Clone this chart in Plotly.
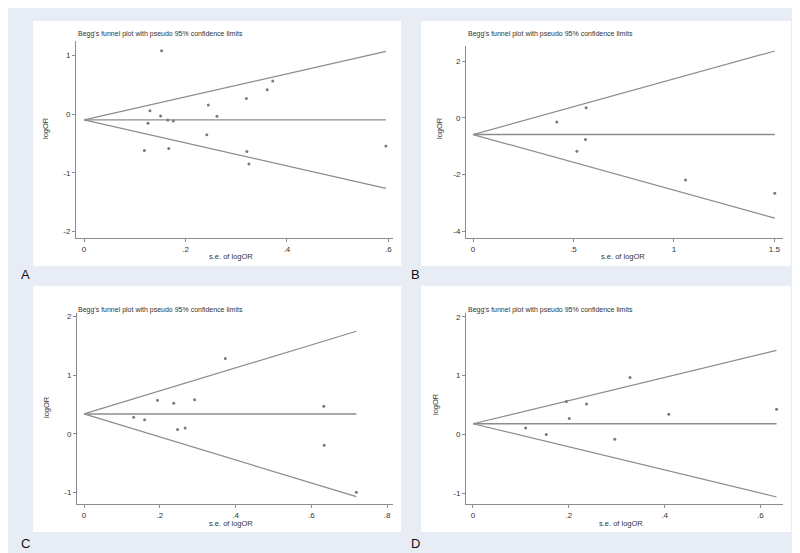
import plotly.graph_objects as go

W, H = 800, 553

# ---------------- data ----------------
se_A = [0.153, 0.130, 0.126, 0.151, 0.165, 0.176, 0.119, 0.167, 0.245, 0.262,
        0.242, 0.320, 0.361, 0.372, 0.321, 0.325, 0.595]
lor_A = [1.076, 0.057, -0.159, -0.034, -0.102, -0.119, -0.623, -0.589, 0.153, -0.040,
         -0.351, 0.266, 0.414, 0.561, -0.640, -0.850, -0.544]
pooled_A = -0.10

se_B = [0.417, 0.563, 0.560, 0.517, 1.058, 1.502]
lor_B = [-0.152, 0.353, -0.766, -1.175, -2.188, -2.659]
pooled_B = -0.59

se_C = [0.131, 0.160, 0.194, 0.237, 0.292, 0.247, 0.267, 0.373, 0.633, 0.634, 0.719]
lor_C = [0.285, 0.239, 0.575, 0.524, 0.580, 0.074, 0.102, 1.286, 0.472, -0.194, -0.996]
pooled_C = 0.34

se_D = [0.110, 0.153, 0.195, 0.201, 0.237, 0.296, 0.328, 0.409, 0.634]
lor_D = [0.113, 0.0, 0.56, 0.272, 0.521, -0.079, 0.968, 0.345, 0.430]
pooled_D = 0.185

xticks_A = [0, 0.2, 0.4, 0.6]; xlabels_A = ["0", ".2", ".4", ".6"]
yticks_A = [-2, -1, 0, 1];     ylabels_A = ["-2", "-1", "0", "1"]
xticks_B = [0, 0.5, 1, 1.5];   xlabels_B = ["0", ".5", "1", "1.5"]
yticks_B = [-4, -2, 0, 2];     ylabels_B = ["-4", "-2", "0", "2"]
xticks_C = [0, 0.2, 0.4, 0.6, 0.8]; xlabels_C = ["0", ".2", ".4", ".6", ".8"]
yticks_C = [-1, 0, 1, 2];      ylabels_C = ["-1", "0", "1", "2"]
xticks_D = [0, 0.2, 0.4, 0.6]; xlabels_D = ["0", ".2", ".4", ".6"]
yticks_D = [-1, 0, 1, 2];      ylabels_D = ["-1", "0", "1", "2"]

panel_letters = ["A", "B", "C", "D"]
title_text = "Begg's funnel plot with pseudo 95% confidence limits"
xtitle_text = "s.e. of logOR"
ytitle_text = "logOR"

# ---------------- layout geometry (pixels) ----------------
panels = [
    dict(se=se_A, lor=lor_A, pooled=pooled_A, xt=xticks_A, xl=xlabels_A, yt=yticks_A, yl=ylabels_A,
         box=(25, 13, 393, 258), plot=(68, 33, 385, 230), xr=[-0.0158, 0.609], yr=[-2.112, 1.244],
         title=(68, 26), ytit=(38, 120), xtit=(223, 248), letter=(17, 267)),
    dict(se=se_B, lor=lor_B, pooled=pooled_B, xt=xticks_B, xl=xlabels_B, yt=yticks_B, yl=ylabels_B,
         box=(413, 13, 783, 258), plot=(458, 38, 775, 230), xr=[-0.0349, 1.543], yr=[-4.235, 2.53],
         title=(458, 26), ytit=(432, 120), xtit=(615, 248), letter=(407, 267)),
    dict(se=se_C, lor=lor_C, pooled=pooled_C, xt=xticks_C, xl=xlabels_C, yt=yticks_C, yl=ylabels_C,
         box=(25, 278, 393, 524), plot=(69, 305, 385, 496), xr=[-0.0185, 0.8157], yr=[-1.195, 2.06],
         title=(68, 302), ytit=(38, 399), xtit=(223, 515), letter=(17, 535)),
    dict(se=se_D, lor=lor_D, pooled=pooled_D, xt=xticks_D, xl=xlabels_D, yt=yticks_D, yl=ylabels_D,
         box=(413, 278, 783, 524), plot=(458, 305, 775, 496), xr=[-0.0146, 0.6475], yr=[-1.177, 2.063],
         title=(458, 302), ytit=(428, 396), xtit=(613, 515), letter=(407, 535)),
]

BG = "#e8ecf5"
LINE = "#8c8c8c"
TXT = "#333333"
FONT = "Arial, Liberation Sans, sans-serif"

fig = go.Figure()
shapes = []
annotations = []
layout_axes = {}

for i, p in enumerate(panels):
    n = "" if i == 0 else str(i + 1)
    xa, ya = "x" + n, "y" + n
    max_se = max(p["se"])
    # funnel limits (pooled +/- 1.96*se) and pooled line
    fig.add_trace(go.Scatter(x=[0, max_se], y=[p["pooled"], p["pooled"] + 1.96 * max_se], mode="lines",
                             line=dict(color=LINE, width=1.2), xaxis=xa, yaxis=ya, showlegend=False,
                             hoverinfo="skip"))
    fig.add_trace(go.Scatter(x=[0, max_se], y=[p["pooled"], p["pooled"] - 1.96 * max_se], mode="lines",
                             line=dict(color=LINE, width=1.2), xaxis=xa, yaxis=ya, showlegend=False,
                             hoverinfo="skip"))
    fig.add_trace(go.Scatter(x=[0, max_se], y=[p["pooled"], p["pooled"]], mode="lines",
                             line=dict(color=LINE, width=1.4), xaxis=xa, yaxis=ya, showlegend=False,
                             hoverinfo="skip"))
    fig.add_trace(go.Scatter(x=p["se"], y=p["lor"], mode="markers",
                             marker=dict(color="#7a7a7a", size=3, symbol="circle"),
                             xaxis=xa, yaxis=ya, showlegend=False))

    x0, y0, x1, y1 = p["plot"]
    common = dict(showline=True, linecolor=LINE, linewidth=1, ticks="outside", ticklen=3,
                  tickcolor=LINE, tickwidth=1, showgrid=False, zeroline=False,
                  tickfont=dict(size=8, color=TXT, family=FONT), fixedrange=True)
    layout_axes["xaxis" + n] = dict(domain=[x0 / W, x1 / W], range=p["xr"], anchor=ya,
                                    tickmode="array", tickvals=p["xt"], ticktext=p["xl"], **common)
    layout_axes["yaxis" + n] = dict(domain=[1 - y1 / H, 1 - y0 / H], range=p["yr"], anchor=xa,
                                    tickmode="array", tickvals=p["yt"], ticktext=p["yl"], **common)

    bx0, by0, bx1, by1 = p["box"]
    shapes.append(dict(type="rect", xref="paper", yref="paper", x0=bx0 / W, x1=bx1 / W,
                       y0=1 - by1 / H, y1=1 - by0 / H, fillcolor="white", line=dict(width=0),
                       layer="below"))

    tx, ty = p["title"]
    annotations.append(dict(text=title_text, x=tx / W, y=1 - ty / H, xref="paper", yref="paper",
                            xanchor="left", yanchor="middle", showarrow=False,
                            font=dict(size=7, color=TXT, family=FONT)))
    yx, yy = p["ytit"]
    annotations.append(dict(text=ytitle_text, x=yx / W, y=1 - yy / H, xref="paper", yref="paper",
                            xanchor="center", yanchor="middle", showarrow=False, textangle=-90,
                            font=dict(size=7.5, color=TXT, family=FONT)))
    xx, xy = p["xtit"]
    annotations.append(dict(text=xtitle_text, x=xx / W, y=1 - xy / H, xref="paper", yref="paper",
                            xanchor="center", yanchor="middle", showarrow=False,
                            font=dict(size=7.5, color=TXT, family=FONT)))
    lx, ly = p["letter"]
    annotations.append(dict(text=panel_letters[i], x=lx / W, y=1 - ly / H, xref="paper", yref="paper",
                            xanchor="center", yanchor="middle", showarrow=False,
                            font=dict(size=13, color="#111111", family=FONT)))

fig.update_layout(width=W, height=H, margin=dict(l=0, r=0, t=0, b=0),
                  paper_bgcolor=BG, plot_bgcolor="white", shapes=shapes, annotations=annotations,
                  showlegend=False, **layout_axes)

fig.write_html("out.html", config={"displayModeBar": False})
